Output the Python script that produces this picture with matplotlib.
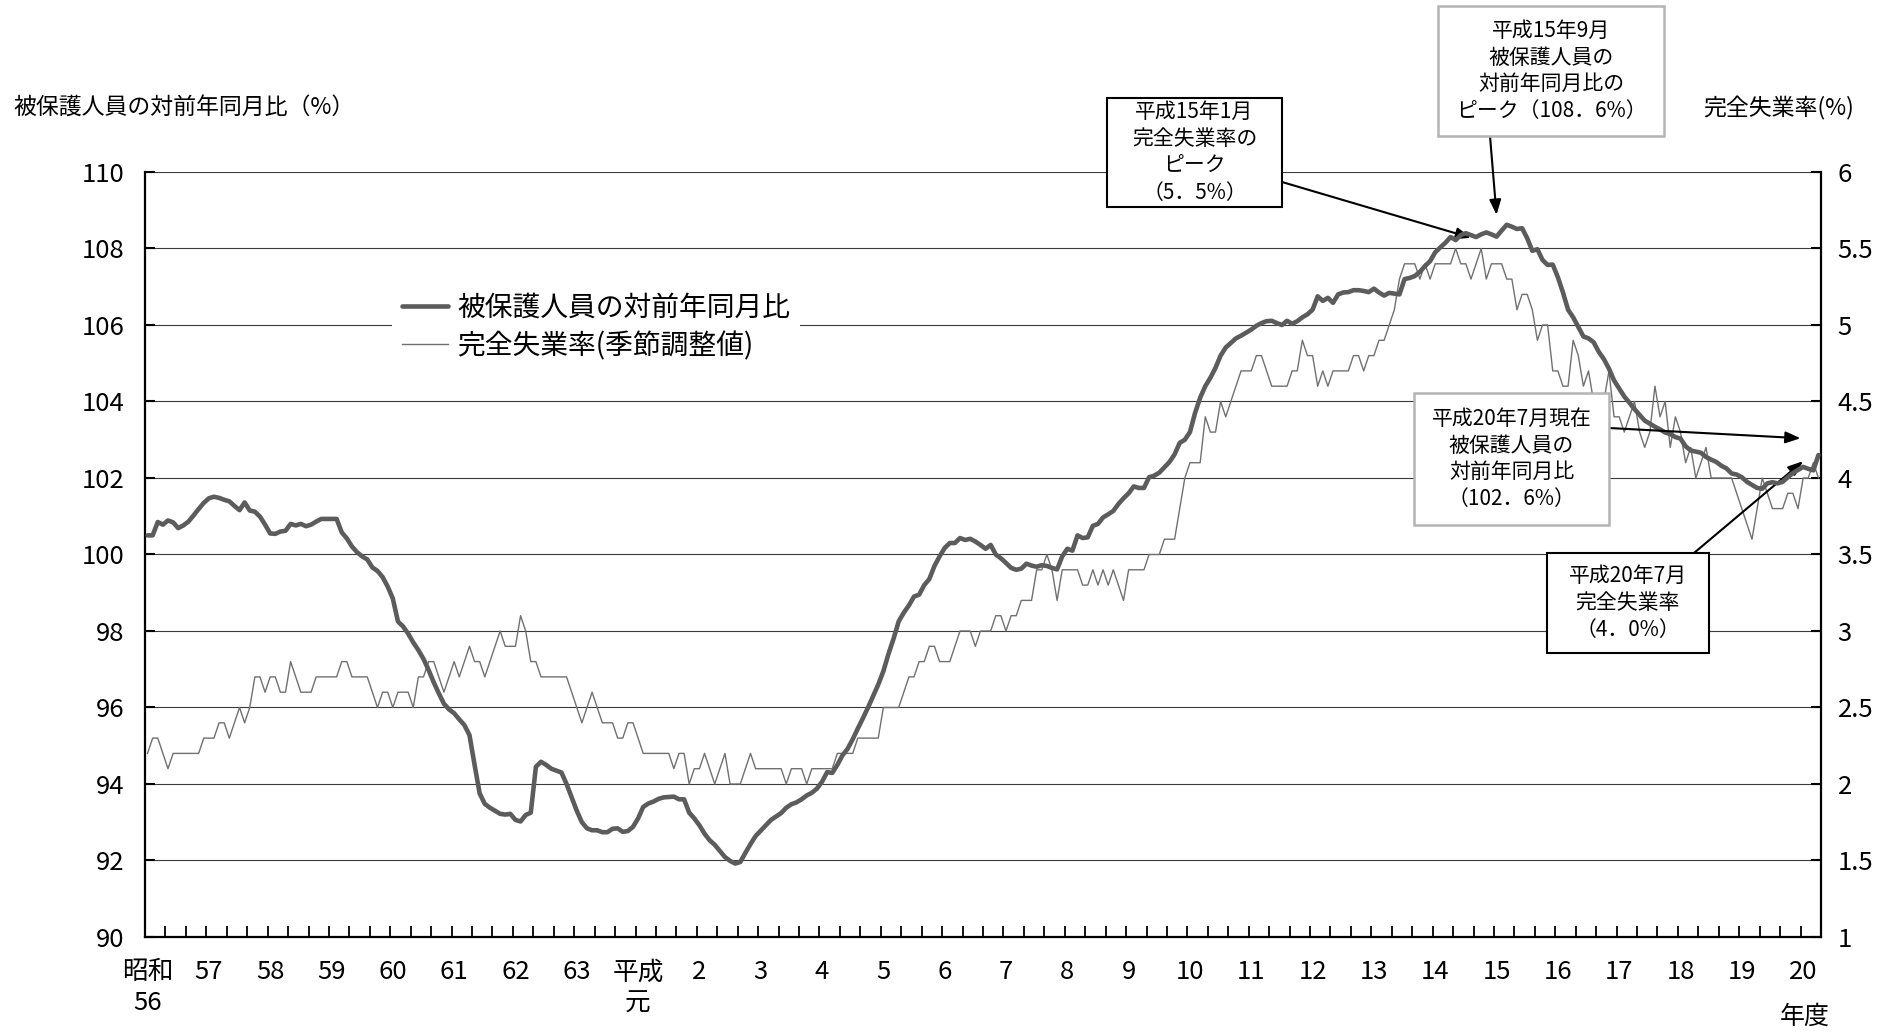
import matplotlib
matplotlib.use('Agg')
import matplotlib.pyplot as plt
from matplotlib.patches import Rectangle
from matplotlib import font_manager as fm
import numpy as np

plt.rcParams['font.family'] = ['Noto Sans CJK JP', 'DejaVu Sans']
avail = {f.name for f in fm.fontManager.ttflist}
TICK_FONT = 'Noto Sans Mono CJK JP' if 'Noto Sans Mono CJK JP' in avail else 'Noto Sans CJK JP'

# ---------------- data (monthly, April S56 (1981) .. July H20 (2008)) ----------------
# 完全失業率（季節調整値） %
unemployment = [
    2.2, 2.3, 2.3, 2.2, 2.1, 2.2, 2.2, 2.2, 2.2, 2.2, 2.2, 2.3,   # S56
    2.3, 2.3, 2.4, 2.4, 2.3, 2.4, 2.5, 2.4, 2.5, 2.7, 2.7, 2.6,   # S57
    2.7, 2.7, 2.6, 2.6, 2.8, 2.7, 2.6, 2.6, 2.6, 2.7, 2.7, 2.7,   # S58
    2.7, 2.7, 2.8, 2.8, 2.7, 2.7, 2.7, 2.7, 2.6, 2.5, 2.6, 2.6,   # S59
    2.5, 2.6, 2.6, 2.6, 2.5, 2.7, 2.7, 2.8, 2.8, 2.7, 2.6, 2.7,   # S60
    2.8, 2.7, 2.8, 2.9, 2.8, 2.8, 2.7, 2.8, 2.9, 3.0, 2.9, 2.9,   # S61
    2.9, 3.1, 3.0, 2.8, 2.8, 2.7, 2.7, 2.7, 2.7, 2.7, 2.7, 2.6,   # S62
    2.5, 2.4, 2.5, 2.6, 2.5, 2.4, 2.4, 2.4, 2.3, 2.3, 2.4, 2.4,   # S63
    2.3, 2.2, 2.2, 2.2, 2.2, 2.2, 2.2, 2.1, 2.2, 2.2, 2.0, 2.1,   # H1
    2.1, 2.2, 2.1, 2.0, 2.1, 2.2, 2.0, 2.0, 2.0, 2.1, 2.2, 2.1,   # H2
    2.1, 2.1, 2.1, 2.1, 2.1, 2.0, 2.1, 2.1, 2.1, 2.0, 2.1, 2.1,   # H3
    2.1, 2.1, 2.1, 2.2, 2.2, 2.2, 2.2, 2.3, 2.3, 2.3, 2.3, 2.3,   # H4
    2.5, 2.5, 2.5, 2.5, 2.6, 2.7, 2.7, 2.8, 2.8, 2.9, 2.9, 2.8,   # H5
    2.8, 2.8, 2.9, 3.0, 3.0, 3.0, 2.9, 3.0, 3.0, 3.0, 3.1, 3.1,   # H6
    3.0, 3.1, 3.1, 3.2, 3.2, 3.2, 3.4, 3.4, 3.5, 3.4, 3.2, 3.4,   # H7
    3.4, 3.4, 3.4, 3.3, 3.3, 3.4, 3.3, 3.4, 3.3, 3.4, 3.3, 3.2,   # H8
    3.4, 3.4, 3.4, 3.4, 3.5, 3.5, 3.5, 3.6, 3.6, 3.6, 3.8, 4.0,   # H9
    4.1, 4.1, 4.1, 4.4, 4.3, 4.3, 4.5, 4.4, 4.5, 4.6, 4.7, 4.7,   # H10
    4.7, 4.8, 4.8, 4.7, 4.6, 4.6, 4.6, 4.6, 4.7, 4.7, 4.9, 4.8,   # H11
    4.8, 4.6, 4.7, 4.6, 4.7, 4.7, 4.7, 4.7, 4.8, 4.8, 4.7, 4.8,   # H12
    4.8, 4.9, 4.9, 5.0, 5.1, 5.3, 5.4, 5.4, 5.4, 5.3, 5.4, 5.3,   # H13
    5.4, 5.4, 5.4, 5.4, 5.5, 5.4, 5.4, 5.3, 5.4, 5.5, 5.3, 5.4,   # H14
    5.4, 5.4, 5.3, 5.3, 5.1, 5.2, 5.2, 5.1, 4.9, 5.0, 5.0, 4.7,   # H15
    4.7, 4.6, 4.6, 4.9, 4.8, 4.6, 4.7, 4.5, 4.5, 4.5, 4.7, 4.4,   # H16
    4.4, 4.3, 4.4, 4.5, 4.3, 4.2, 4.3, 4.6, 4.4, 4.5, 4.2, 4.4,   # H17
    4.3, 4.1, 4.2, 4.0, 4.1, 4.2, 4.0, 4.0, 4.0, 4.0, 4.0, 3.9,   # H18
    3.8, 3.7, 3.6, 3.8, 4.0, 3.9, 3.8, 3.8, 3.8, 3.9, 3.9, 3.8,   # H19
    4.0, 4.0, 4.1, 4.0,                                           # H20 (Apr-Jul)
]

# 被保護人員の対前年同月比 %
recipients_yoy = [
    100.50, 100.50, 100.85, 100.78, 100.89, 100.84, 100.69, 100.76, 100.86, 101.02, 101.19, 101.35,
    101.47, 101.51, 101.48, 101.43, 101.39, 101.27, 101.16, 101.36, 101.15, 101.12, 100.99, 100.78,
    100.55, 100.54, 100.60, 100.62, 100.80, 100.76, 100.80, 100.74, 100.78, 100.86, 100.93, 100.93,
    100.93, 100.93, 100.58, 100.42, 100.21, 100.06, 99.95, 99.87, 99.66, 99.57, 99.41, 99.16,
    98.85, 98.25, 98.12, 97.93, 97.70, 97.50, 97.27, 96.98, 96.66, 96.37, 96.10, 95.95,
    95.85, 95.69, 95.54, 95.28, 94.50, 93.75, 93.48, 93.38, 93.30, 93.22, 93.20, 93.22,
    93.06, 93.02, 93.19, 93.25, 94.45, 94.58, 94.50, 94.40, 94.35, 94.30, 94.00, 93.65,
    93.30, 93.00, 92.84, 92.79, 92.79, 92.74, 92.74, 92.83, 92.84, 92.75, 92.77, 92.88,
    93.10, 93.40, 93.49, 93.54, 93.61, 93.65, 93.66, 93.67, 93.60, 93.60, 93.25, 93.10,
    92.92, 92.70, 92.53, 92.41, 92.25, 92.09, 91.99, 91.92, 91.96, 92.20, 92.43, 92.64,
    92.78, 92.92, 93.06, 93.15, 93.24, 93.38, 93.47, 93.52, 93.60, 93.70, 93.77, 93.88,
    94.06, 94.31, 94.29, 94.50, 94.75, 94.92, 95.17, 95.45, 95.72, 96.00, 96.30, 96.60,
    96.95, 97.40, 97.80, 98.25, 98.48, 98.67, 98.90, 98.95, 99.20, 99.36, 99.70, 99.95,
    100.17, 100.30, 100.30, 100.43, 100.38, 100.41, 100.34, 100.25, 100.15, 100.25, 100.00, 99.90,
    99.78, 99.65, 99.60, 99.63, 99.76, 99.71, 99.68, 99.72, 99.70, 99.65, 99.61, 99.95,
    100.15, 100.10, 100.50, 100.43, 100.45, 100.75, 100.80, 100.97, 101.05, 101.14, 101.32, 101.47,
    101.60, 101.78, 101.74, 101.74, 102.02, 102.06, 102.14, 102.28, 102.42, 102.62, 102.92, 103.00,
    103.20, 103.70, 104.10, 104.40, 104.62, 104.88, 105.20, 105.41, 105.53, 105.65, 105.72, 105.80,
    105.88, 105.98, 106.05, 106.10, 106.11, 106.05, 106.00, 106.11, 106.03, 106.10, 106.20, 106.28,
    106.40, 106.75, 106.63, 106.71, 106.58, 106.80, 106.85, 106.86, 106.91, 106.91, 106.89, 106.86,
    106.95, 106.85, 106.77, 106.84, 106.82, 106.80, 107.20, 107.23, 107.28, 107.39, 107.54, 107.67,
    107.90, 108.03, 108.15, 108.30, 108.22, 108.35, 108.40, 108.35, 108.30, 108.37, 108.42, 108.37,
    108.31, 108.47, 108.62, 108.57, 108.51, 108.53, 108.27, 107.94, 107.98, 107.70, 107.57, 107.58,
    107.25, 106.85, 106.40, 106.20, 105.95, 105.70, 105.65, 105.55, 105.30, 105.11, 104.86, 104.55,
    104.34, 104.13, 103.97, 103.80, 103.65, 103.50, 103.42, 103.34, 103.27, 103.19, 103.15, 103.07,
    103.03, 102.83, 102.72, 102.69, 102.66, 102.55, 102.48, 102.42, 102.32, 102.25, 102.12, 102.09,
    102.02, 101.90, 101.82, 101.74, 101.72, 101.86, 101.89, 101.86, 101.90, 102.02, 102.13, 102.21,
    102.29, 102.24, 102.20, 102.60,
]

year_labels = ['昭和\n56', '57', '58', '59', '60', '61', '62', '63', '平成\n元',
               '2', '3', '4', '5', '6', '7', '8', '9', '10', '11', '12', '13', '14',
               '15', '16', '17', '18', '19', '20']
left_ticks = [90, 92, 94, 96, 98, 100, 102, 104, 106, 108, 110]
right_ticks = [1, 1.5, 2, 2.5, 3, 3.5, 4, 4.5, 5, 5.5, 6]
right_tick_labels = ['1', '1.5', '2', '2.5', '3', '3.5', '4', '4.5', '5', '5.5', '6']

series_labels = ['被保護人員の対前年同月比', '完全失業率(季節調整値)']

# ---------------- figure ----------------
W, H = 1890, 1034
fig = plt.figure(figsize=(W / 100, H / 100), dpi=100)
fig.patch.set_facecolor('white')

L, R, T, B = 145 / W, 1821 / W, 1 - 172 / H, 1 - 937 / H
ax = fig.add_axes([L, B, R - L, T - B])
ax2 = ax.twinx()
ax.set_zorder(2)
ax2.set_zorder(1)
ax.patch.set_visible(False)

months = np.arange(len(recipients_yoy))

# grid (on the lower axes so that the data lines sit above it)
ax2.set_ylim(1, 6)
ax2.set_yticks(right_ticks)
ax2.set_yticklabels(right_tick_labels)
ax2.yaxis.grid(True, color='#3a3a3a', linewidth=0.8)
ax2.set_axisbelow(True)

l_unemp, = ax2.plot(months, unemployment, color='#707070', linewidth=1.0, zorder=3)
l_rec, = ax.plot(months, recipients_yoy, color='#5c5c5c', linewidth=3.3,
                 solid_joinstyle='round', solid_capstyle='round', zorder=3)

ax.set_ylim(90, 110)
ax.set_yticks(left_ticks)
ax.set_xlim(-0.5, len(months) - 0.5)
ax.set_xticks(months[::12])
ax.set_xticklabels(year_labels)
ax.set_xticks(np.arange(3.5, len(months) - 0.5, 4), minor=True)

# spines
for s in ['top', 'right']:
    ax.spines[s].set_visible(False)
for s in ['top', 'left', 'bottom']:
    ax2.spines[s].set_visible(False)
for sp in [ax.spines['left'], ax.spines['bottom'], ax2.spines['right']]:
    sp.set_color('black')
    sp.set_linewidth(1.6)

ax.tick_params(axis='y', direction='in', length=7, width=1.5, pad=15,
               labelsize=18.5, labelfontfamily=TICK_FONT)
ax2.tick_params(axis='y', direction='in', length=7, width=1.5, pad=12,
                labelsize=18.5, labelfontfamily=TICK_FONT)
ax.tick_params(axis='x', which='major', length=0, pad=16,
               labelsize=18.5, labelfontfamily=TICK_FONT)
ax.tick_params(axis='x', which='minor', direction='in', length=8, width=1.3)
for t in ax.get_xticklabels():
    t.set_linespacing(1.25)

# axis titles
fig.text(13 / W, 1 - 108 / H, '被保護人員の対前年同月比（%）', fontsize=16.5,
         ha='left', va='center')
fig.text(1779 / W, 1 - 108 / H, '完全失業率(%)', fontsize=16.5, ha='center', va='center')
fig.text(1805 / W, 1 - 1017 / H, '年度', fontsize=18, ha='center', va='center',
         family=TICK_FONT)

# legend
leg = ax.legend([l_rec, l_unemp], series_labels, loc='center left',
                bbox_to_anchor=(392 / W, 1 - 327 / H), bbox_transform=fig.transFigure,
                frameon=True, facecolor='white', edgecolor='none', framealpha=1,
                fancybox=False, fontsize=20, handlelength=1.65, handletextpad=0.35,
                labelspacing=0.3, borderpad=0.35, borderaxespad=0)
leg.set_zorder(10)

# annotation boxes (figure pixel coordinates, y from top)
def box(x0, x1, y0, y1, text, edge, lw):
    fig.add_artist(Rectangle((x0 / W, 1 - y1 / H), (x1 - x0) / W, (y1 - y0) / H,
                             transform=fig.transFigure, facecolor='white',
                             edgecolor=edge, linewidth=lw, zorder=20))
    fig.text((x0 + x1) / 2 / W, 1 - (y0 + y1) / 2 / H, text, fontsize=15,
             ha='center', va='center', linespacing=1.28, zorder=21)

box(1107, 1282, 98, 207, '平成15年1月\n完全失業率の\nピーク\n（5．5%）', 'black', 1.5)
box(1438, 1664, 6, 136, '平成15年9月\n被保護人員の\n対前年同月比の\nピーク（108．6%）', '#b4b4b4', 1.8)
box(1414, 1609, 393, 525, '平成20年7月現在\n被保護人員の\n対前年同月比\n（102．6%）', '#b4b4b4', 1.8)
box(1547, 1709, 553, 653, '平成20年7月\n完全失業率\n（4．0%）', 'black', 1.5)

arrow = dict(arrowstyle='-|>,head_length=0.9,head_width=0.35', color='black',
             lw=1.5, shrinkA=0, shrinkB=0)
ax2.annotate('', xy=(259, 5.57), xycoords='data',
             xytext=(1282 / W, 1 - 182 / H), textcoords='figure fraction', arrowprops=arrow)
ax.annotate('', xy=(264, 108.88), xycoords='data',
            xytext=(1490 / W, 1 - 136 / H), textcoords='figure fraction', arrowprops=arrow)
ax.annotate('', xy=(323.5, 103.04), xycoords='data',
            xytext=(1609 / W, 1 - 428 / H), textcoords='figure fraction', arrowprops=arrow)
ax2.annotate('', xy=(324, 4.11), xycoords='data',
             xytext=(1694 / W, 1 - 553 / H), textcoords='figure fraction', arrowprops=arrow)

fig.savefig('out.png', dpi=100, facecolor='white')
